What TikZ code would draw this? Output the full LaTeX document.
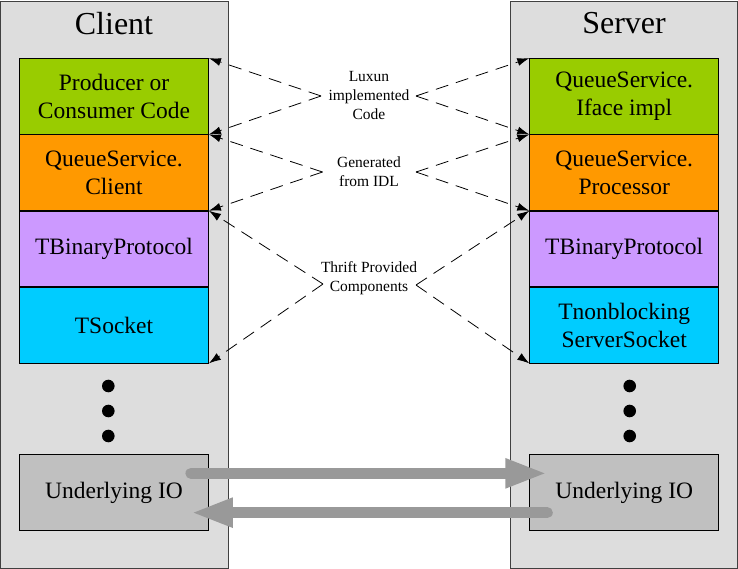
\documentclass[tikz,border=0pt]{standalone}
\usepackage{fontspec}
\setmainfont{Liberation Serif}
\usepackage{xcolor}
\usetikzlibrary{positioning,arrows.meta}

\definecolor{panelfill}{HTML}{DDDDDD}
\definecolor{panelline}{HTML}{404040}
\definecolor{codegreen}{HTML}{99CC00}
\definecolor{idlorange}{HTML}{FF9900}
\definecolor{protopurple}{HTML}{CC99FF}
\definecolor{socketcyan}{HTML}{00CCFF}
\definecolor{iogray}{HTML}{C0C0C0}
\definecolor{pipegray}{HTML}{999999}

\tikzset{
  layer/.style={draw=black, line width=0.8pt,
    minimum width=189pt, minimum height=75.5pt,
    inner sep=0pt, align=center,
    font=\fontsize{23.5}{28}\selectfont},
  side/.style={fill=panelfill, draw=panelline, line width=1pt},
  title/.style={font=\fontsize{32}{36}\selectfont},
  note/.style={align=center, inner sep=0pt,
    font=\fontsize{15.5}{19}\selectfont},
  dashlink/.style={line width=0.8pt, dash pattern=on 13pt off 8pt,
    -{Latex[length=12pt, width=8pt]}},
  iopipe/.style={pipegray, line width=11pt, line cap=round,
    -{Triangle[length=42pt, width=27pt]}}
}

\begin{document}
\begin{tikzpicture}[x=1pt, y=-1pt]
    \path [use as bounding box] (0, 0) rectangle (738, 569);

    \path[side] (0.7, 1.5) rectangle (228, 568);
    \path[side] (510.7, 1.5) rectangle (737, 568);

    \node[title] (client) at (114, 23.5) {Client};
    \node[title] (server) at (624, 23.5) {Server};

    \node[layer, fill=codegreen] (cP) at (114, 96.3)
      {Producer or\\Consumer Code};
    \node[layer, fill=idlorange, below=0pt of cP] (cQ)
      {QueueService.\\Client};
    \node[layer, fill=protopurple, below=0pt of cQ] (cB)
      {TBinaryProtocol};
    \node[layer, fill=socketcyan, below=0pt of cB] (cS)
      {TSocket};
    \node[layer, fill=iogray] (cIO) at (114, 492.5)
      {Underlying IO};

    \node[layer, fill=codegreen] (sI) at (624.2, 96.3)
      {QueueService.\\Iface impl};
    \node[layer, fill=idlorange, below=0pt of sI] (sP)
      {QueueService.\\Processor};
    \node[layer, fill=protopurple, below=0pt of sP] (sB)
      {TBinaryProtocol};
    \node[layer, fill=socketcyan, below=0pt of sB] (sS)
      {Tnonblocking\\ServerSocket};
    \node[layer, fill=iogray] (sIO) at (624.2, 492.5)
      {Underlying IO};

    \foreach \yd in { 386, 411, 436 } {
      \path[fill=black] (108.3, \yd) circle [radius=6.3];
      \path[fill=black] (629.7, \yd) circle [radius=6.3];
    }

    \node[note] (lux) at (369, 96) {Luxun\\implemented\\Code};
    \node[note] (gen) at (369, 172) {Generated\\from IDL};
    \node[note] (thr) at (369, 278) {Thrift Provided\\Components};

    \coordinate (luxL) at (321, 96);
    \coordinate (luxR) at (416, 96);
    \coordinate (genL) at (322.5, 172);
    \coordinate (genR) at (416, 172);
    \coordinate (thrL) at (323, 284);
    \coordinate (thrR) at (416, 285);

    \draw[dashlink] (luxL) -- (cP.north east);
    \draw[dashlink] (luxL) -- (cP.south east);
    \draw[dashlink] (luxR) -- (sI.north west);
    \draw[dashlink] (luxR) -- (sI.south west);
    \draw[dashlink] (genL) -- (cQ.north east);
    \draw[dashlink] (genL) -- (cQ.south east);
    \draw[dashlink] (genR) -- (sP.north west);
    \draw[dashlink] (genR) -- (sP.south west);
    \draw[dashlink] (thrL) -- (cB.north east);
    \draw[dashlink] (thrL) -- (cS.south east);
    \draw[dashlink] (thrR) -- (sB.north west);
    \draw[dashlink] (thrR) -- (sS.south west);

    \draw[iopipe] ([xshift=-18pt, yshift=-19pt]cIO.north east)
      -- ([xshift=18pt, yshift=-19pt]sIO.north west);
    \draw[iopipe] ([xshift=18pt, yshift=18pt]sIO.south west)
      -- ([xshift=-18pt, yshift=18pt]cIO.south east);
  \end{tikzpicture}
\end{document}
